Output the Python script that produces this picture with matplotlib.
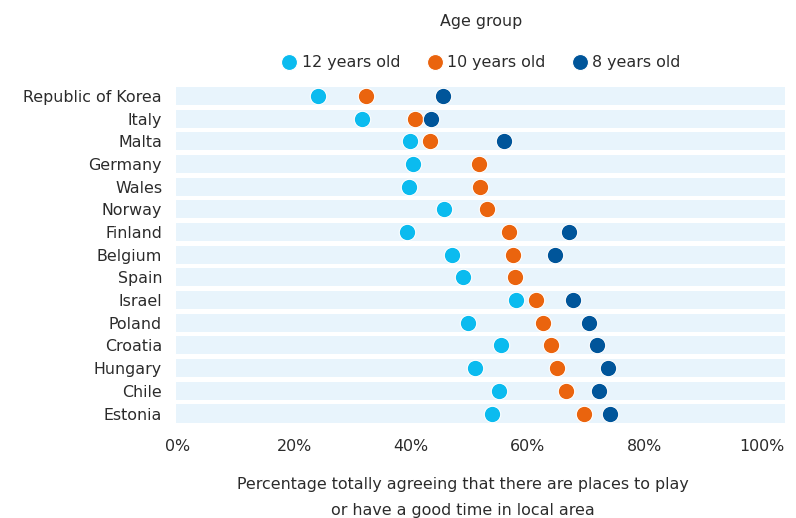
import numpy as np
import matplotlib
matplotlib.use("Agg")
import matplotlib.pyplot as plt
from matplotlib.lines import Line2D

countries = ["Republic of Korea", "Italy", "Malta", "Germany", "Wales", "Norway",
             "Finland", "Belgium", "Spain", "Israel", "Poland", "Croatia",
             "Hungary", "Chile", "Estonia"]
age12 = [24.1, 31.7, 39.9, 40.4, 39.7, 45.7, 39.4, 47.0, 48.9, 58.0, 49.7, 55.4, 51.0, 55.0, 53.8]
age10 = [32.3, 40.7, 43.2, 51.7, 51.9, 53.0, 56.7, 57.5, 57.8, 61.4, 62.6, 64.0, 65.0, 66.6, 69.6]
age8 = [45.4, 43.5, 55.9, np.nan, np.nan, np.nan, 67.0, 64.7, np.nan, 67.8, 70.5, 71.8, 73.7, 72.1, 74.1]
series_names = ["12 years old", "10 years old", "8 years old"]
colors = ["#0BBBEF", "#EA640E", "#00559A"]
xticks = [0, 20, 40, 60, 80, 100]
xtick_labels = ["0%", "20%", "40%", "60%", "80%", "100%"]

plt.rcParams['font.family'] = ['DejaVu Sans']
text_color = "#2b2b2b"
fs = 11.4

fig = plt.figure(figsize=(7.96, 5.18), dpi=100)
ax = fig.add_axes([176/796, 1-424.84/518, (785-176)/796, (424.84-84.66)/518])

ypos = np.arange(len(countries))
for y in ypos:
    ax.axhspan(y-0.397, y+0.397, color="#E8F4FC", zorder=0, lw=0)

for vals, col in zip([age12, age10, age8], colors):
    ax.scatter(vals, ypos, s=140, color=col, edgecolor="white", linewidth=0.8, zorder=3)

ax.set_xlim(-0.2, 104.0)
ax.set_ylim(len(countries)-0.5, -0.5)
ax.set_yticks(ypos)
ax.set_yticklabels(countries, fontsize=fs, color=text_color)
ax.set_xticks(xticks)
ax.set_xticklabels(xtick_labels, fontsize=fs, color=text_color)
ax.tick_params(axis='y', length=0, pad=10)
ax.tick_params(axis='x', length=0, pad=10)
for s in ax.spines.values():
    s.set_visible(False)

handles = [Line2D([], [], marker='o', linestyle='none', markersize=11.5,
                  markerfacecolor=c, markeredgecolor='white', markeredgewidth=0.8)
           for c in colors]
leg = fig.legend(handles, series_names, loc='upper center', ncol=3, frameon=False,
                 bbox_to_anchor=(481/796, 1-3/518), fontsize=fs, title="Age group",
                 title_fontsize=fs, handletextpad=0.3, columnspacing=1.65,
                 labelspacing=1.65, handlelength=1.0, borderpad=0.2)
for t in leg.get_texts():
    t.set_color(text_color)
leg.get_title().set_color(text_color)

fig.text(463/796, 1-485/518, "Percentage totally agreeing that there are places to play",
         ha='center', va='center', fontsize=fs, color=text_color)
fig.text(463/796, 1-510/518, "or have a good time in local area",
         ha='center', va='center', fontsize=fs, color=text_color)

fig.savefig("out.png", dpi=100)
